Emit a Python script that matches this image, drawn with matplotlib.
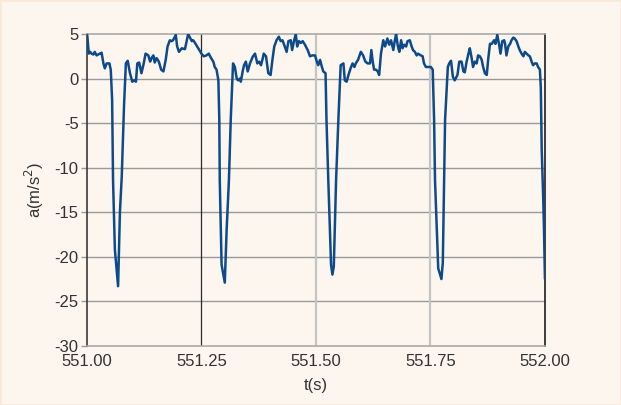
#!/usr/bin/env python3
"""
Acceleration trace a(t) over one second, recreated with matplotlib
"""

import matplotlib
matplotlib.use("Agg")
import matplotlib.pyplot as plt
from matplotlib.patches import Rectangle

# time stamps (s) and acceleration (m/s^2)
t = [
    551.000, 551.001, 551.004, 551.007, 551.010, 551.014, 551.017, 551.021,
    551.028, 551.032, 551.036, 551.039, 551.043, 551.049, 551.052, 551.055,
    551.057, 551.061, 551.068, 551.072, 551.076, 551.081, 551.085, 551.089,
    551.094, 551.099, 551.103, 551.107, 551.110, 551.114, 551.119, 551.124,
    551.128, 551.134, 551.138, 551.141, 551.145, 551.148, 551.152, 551.157,
    551.162, 551.167, 551.172, 551.176, 551.181, 551.185, 551.188, 551.194,
    551.197, 551.201, 551.207, 551.214, 551.218, 551.221, 551.225, 551.229,
    551.232, 551.236, 551.243, 551.250, 551.255, 551.261, 551.266, 551.271,
    551.276, 551.279, 551.283, 551.287, 551.289, 551.290, 551.294, 551.301,
    551.305, 551.310, 551.314, 551.319, 551.323, 551.327, 551.330, 551.334,
    551.336, 551.340, 551.343, 551.347, 551.351, 551.356, 551.362, 551.367,
    551.372, 551.376, 551.380, 551.384, 551.386, 551.391, 551.396, 551.401,
    551.405, 551.409, 551.414, 551.419, 551.423, 551.427, 551.432, 551.436,
    551.440, 551.445, 551.448, 551.452, 551.456, 551.459, 551.463, 551.467,
    551.471, 551.476, 551.482, 551.487, 551.492, 551.498, 551.502, 551.505,
    551.509, 551.512, 551.516, 551.521, 551.523, 551.527, 551.533, 551.536,
    551.539, 551.544, 551.549, 551.554, 551.560, 551.563, 551.567, 551.571,
    551.576, 551.580, 551.584, 551.587, 551.592, 551.598, 551.603, 551.608,
    551.613, 551.618, 551.621, 551.624, 551.627, 551.631, 551.635, 551.638,
    551.642, 551.647, 551.651, 551.656, 551.660, 551.664, 551.669, 551.672,
    551.675, 551.679, 551.682, 551.686, 551.689, 551.693, 551.697, 551.700,
    551.705, 551.709, 551.712, 551.716, 551.720, 551.723, 551.729, 551.733,
    551.736, 551.740, 551.745, 551.751, 551.755, 551.758, 551.760, 551.767,
    551.774, 551.777, 551.780, 551.782, 551.788, 551.791, 551.795, 551.799,
    551.803, 551.809, 551.813, 551.818, 551.822, 551.825, 551.829, 551.833,
    551.836, 551.840, 551.843, 551.847, 551.851, 551.854, 551.858, 551.862,
    551.865, 551.869, 551.873, 551.876, 551.880, 551.884, 551.889, 551.892,
    551.896, 551.900, 551.903, 551.907, 551.911, 551.913, 551.916, 551.920,
    551.924, 551.927, 551.931, 551.934, 551.938, 551.942, 551.945, 551.949,
    551.953, 551.956, 551.960, 551.964, 551.967, 551.971, 551.974, 551.978,
    551.982, 551.985, 551.989, 551.991, 551.993, 551.996, 551.998, 552.000,
]
a = [
    5.0, 4.7, 2.8, 3.0, 2.8, 2.7, 3.0, 2.6,
    2.8, 2.9, 1.7, 1.15, 1.7, 1.7, 1.0, -2.4,
    -11.4, -19.2, -23.3, -15.0, -11.0, -3.0, 1.7, 2.0,
    0.6, -0.35, -0.2, -0.35, 1.7, 1.8, 0.6, 1.7,
    2.8, 2.6, 1.9, 2.3, 2.6, 1.8, 2.3, 1.9,
    1.0, 0.8, 2.1, 3.6, 4.3, 4.2, 4.3, 4.9,
    3.6, 3.0, 3.4, 3.3, 4.3, 5.0, 4.6, 4.2,
    4.3, 4.0, 3.4, 2.8, 2.5, 2.6, 2.8, 2.3,
    1.9, 1.3, 1.0, -0.2, -4.6, -11.4, -20.9, -22.9,
    -17.0, -11.4, -4.6, 1.7, 1.3, 0.0, -0.2, 0.0,
    -0.35, 0.8, 1.5, 1.9, 0.8, 1.7, 2.45, 2.8,
    1.7, 1.9, 1.5, 2.3, 2.8, 2.5, 0.6, 0.4,
    2.1, 3.6, 4.3, 4.7, 4.2, 4.3, 3.6, 3.0,
    4.2, 4.3, 3.2, 4.2, 5.0, 3.6, 4.2, 4.0,
    4.2, 3.8, 3.2, 2.5, 2.6, 2.6, 1.9, 1.5,
    2.1, 1.5, 0.8, 0.6, -4.6, -11.4, -20.9, -22.0,
    -21.1, -11.4, -4.6, 1.5, 1.7, -0.2, -0.35, 0.4,
    1.2, 1.7, 1.3, 1.7, 2.1, 3.0, 2.6, 1.9,
    1.7, 1.7, 3.2, 1.9, 1.0, 1.0, 0.8, 0.4,
    2.8, 4.3, 3.6, 4.5, 3.8, 4.3, 3.2, 4.2,
    5.0, 3.6, 3.0, 4.3, 3.4, 3.8, 3.6, 4.2,
    4.3, 3.6, 3.2, 3.0, 2.6, 2.8, 2.6, 2.5,
    1.7, 1.3, 1.3, 1.3, 1.0, -4.6, -11.4, -21.3,
    -22.5, -20.7, -11.4, -4.6, 1.3, 1.7, 2.0, 0.2,
    -0.2, 0.4, 1.9, 1.9, 0.8, 0.7, 1.9, 2.8,
    3.4, 2.3, 1.3, 1.9, 1.7, 2.6, 2.5, 2.1,
    1.3, 0.6, 0.4, 2.1, 3.9, 3.9, 4.3, 3.9,
    4.9, 3.8, 2.8, 4.2, 4.3, 3.9, 2.6, 3.6,
    3.9, 4.3, 4.6, 4.5, 4.2, 3.6, 3.2, 2.8,
    2.5, 3.0, 2.8, 2.6, 2.5, 1.9, 1.5, 1.7,
    1.7, 1.3, 1.0, -1.0, -8.0, -13.0, -17.0, -22.4,
]

x_ticks = [551.00, 551.25, 551.50, 551.75, 552.00]
y_ticks = [5, 0, -5, -10, -15, -20, -25, -30]

BG = '#fdf6ee'
LINE = '#0d4a8c'
TEXT = '#333333'

plt.rcParams['font.family'] = ['Liberation Sans', 'DejaVu Sans']

fig = plt.figure(figsize=(6.21, 4.05), dpi=100, facecolor=BG)
ax = fig.add_axes([0.140, 0.146, 0.7375, 0.770])
ax.set_facecolor(BG)

# faint border round the figure
fig.patches.append(Rectangle((0, 0), 1, 1, transform=fig.transFigure,
                             fill=False, edgecolor='#f9e9d8', linewidth=2))

ax.plot(t, a, color=LINE, linewidth=1.8, zorder=3)

ax.set_xlim(551.0, 552.0)
ax.set_ylim(-30, 5)
ax.set_xticks(x_ticks)
ax.set_xticklabels([f'{v:.2f}' for v in x_ticks])
ax.set_yticks(y_ticks)
ax.set_yticklabels([str(v) for v in y_ticks])

# horizontal grid
for v in y_ticks[1:-1]:
    ax.axhline(v, color='#9a9a9a', linewidth=1.0, zorder=1)
# vertical grid: first one dark, the rest light
ax.axvline(551.25, color='#2a2a2a', linewidth=0.9, zorder=1)
for v in [551.50, 551.75]:
    ax.axvline(v, color='#c4c4c4', linewidth=1.6, zorder=1)

ax.spines['left'].set_color('#3a3a3a')
ax.spines['right'].set_color('#1e1e1e')
ax.spines['top'].set_color('#aaaaaa')
ax.spines['bottom'].set_color('#aaaaaa')
for s in ax.spines.values():
    s.set_linewidth(1.2)

ax.tick_params(axis='y', length=4, width=1, color='#999999',
               labelsize=12, labelcolor=TEXT, pad=2)
ax.tick_params(axis='x', length=0, labelsize=12, labelcolor=TEXT, pad=6)
ax.yaxis.get_major_ticks()[5].tick1line.set_color(LINE)

ax.set_xlabel('t(s)', fontsize=12, color=TEXT, labelpad=6)
ax.set_ylabel('a(m/s$^2$)', fontsize=12, color=TEXT, labelpad=6)

fig.savefig('out.png', dpi=100, facecolor=BG)
